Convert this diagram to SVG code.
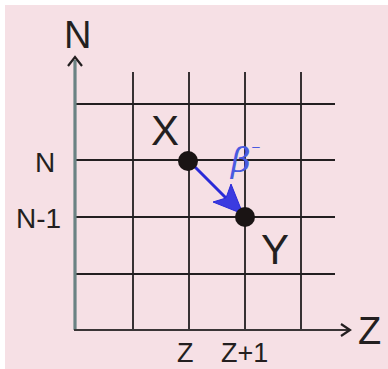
<svg xmlns="http://www.w3.org/2000/svg" width="388" height="369" viewBox="0 0 388 369">
<defs>
<style>
.grid{stroke:#231f20;stroke-width:1.8;fill:none}
.lbl{font-family:"Liberation Sans",Arial,sans-serif;fill:#231f20}
.pt{fill:#1a1414}
</style>
<marker id="chev" markerWidth="12" markerHeight="14" refX="10" refY="7" orient="auto" markerUnits="userSpaceOnUse">
<path d="M1,1 L10,7 L1,13" fill="none" stroke="#231f20" stroke-width="2.2"/>
</marker>
</defs>
<rect x="0" y="0" width="388" height="369" fill="#ffffff"/>
<rect x="5" y="5" width="383" height="364" fill="#f6e0e5"/>
<g id="grid">
<path class="grid" d="M133,72V330M189,72V330M245,72V330M301,72V330"/>
<path class="grid" d="M74,104H335M74,160H335M74,217H335M74,274H335"/>
</g>
<g id="connectors">
<line x1="75" y1="330" x2="75" y2="60" stroke="#6b8283" stroke-width="3.2"/>
<path d="M68,66 L75,57 L82,66" fill="none" stroke="#231f20" stroke-width="2.2"/>
<line x1="74" y1="330" x2="350" y2="330" stroke="#3a3536" stroke-width="2" marker-end="url(#chev)"/>
<line x1="189" y1="161" x2="226" y2="198" stroke="#2a2ad8" stroke-width="3"/>
<polygon points="243,214 213,202 226,198 231,184" fill="#3b3be0" stroke="#2a2ad8" stroke-width="1"/>
</g>
<g id="node-X">
<circle class="pt" cx="188" cy="161" r="10"/>
<text class="lbl" x="151" y="145" font-size="42">X</text>
</g>
<g id="node-Y">
<circle class="pt" cx="245" cy="217" r="10"/>
<text class="lbl" x="261" y="264" font-size="42">Y</text>
</g>
<g id="labels">
<text class="lbl" x="64" y="48" font-size="38">N</text>
<text class="lbl" x="358" y="344" font-size="38">Z</text>
<text class="lbl" x="35" y="172" font-size="28">N</text>
<text class="lbl" x="16" y="228" font-size="28">N-1</text>
<text class="lbl" x="177" y="362" font-size="27">Z</text>
<text class="lbl" x="221" y="362" font-size="27">Z+1</text>
<text x="231" y="172" font-family="'DejaVu Serif',serif" font-style="italic" font-size="34" fill="#4a5ae0">β<tspan font-size="12" dy="-21">−</tspan></text>
</g>
</svg>
